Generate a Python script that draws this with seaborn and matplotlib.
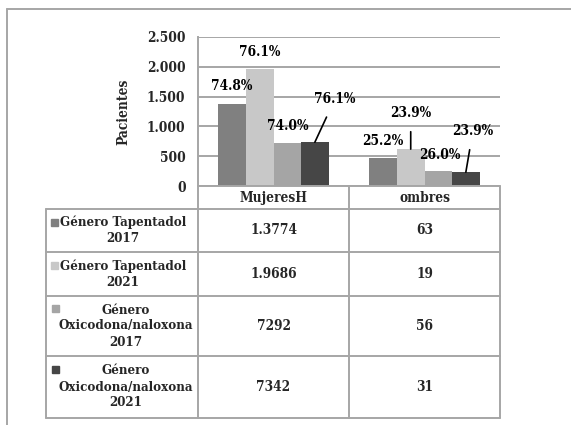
import matplotlib
matplotlib.use("Agg")
import matplotlib.pyplot as plt
from matplotlib.lines import Line2D
from matplotlib.patches import Rectangle
import matplotlib.ticker as mticker
import seaborn as sns
import pandas as pd

# ---------------- data ----------------
categories = ["MujeresH", "ombres"]
series = ["Género Tapentadol 2017", "Género Tapentadol 2021",
          "Género Oxicodona/naloxona 2017", "Género Oxicodona/naloxona 2021"]
row_labels = ["Género Tapentadol\n2017", "Género Tapentadol\n2021",
              "Género\nOxicodona/naloxona\n2017", "Género\nOxicodona/naloxona\n2021"]
tap_2017 = [1377, 463]
tap_2021 = [1968, 619]
oxi_2017 = [729, 256]
oxi_2021 = [734, 231]
table_text = [["1.3774", "63"], ["1.9686", "19"], ["7292", "56"], ["7342", "31"]]
yticks = [0, 500, 1000, 1500, 2000, 2500]

values = [tap_2017, tap_2021, oxi_2017, oxi_2021]
colors = ["#808080", "#c8c8c8", "#a5a5a5", "#464646"]

rows = []
for s, vals in zip(series, values):
    for c, v in zip(categories, vals):
        rows.append({"cat": c, "serie": s, "val": v})
df = pd.DataFrame(rows)

# ---------------- figure ----------------
W, H = 571, 425
sns.set_theme(style="white")
plt.rcParams["font.family"] = ["DejaVu Serif"]
plt.rcParams["font.weight"] = "bold"
plt.rcParams["font.stretch"] = "condensed"
FS = 9.8
FS_ROW = 9.5

fig = plt.figure(figsize=(W / 100, H / 100), dpi=100)
fig.patch.set_facecolor("white")


def fx(x):
    return x / W


def fy(y):
    return 1 - y / H


ax_l, ax_r, ax_t, ax_b = 198, 500, 37, 186
ax = fig.add_axes([fx(ax_l), fy(ax_b), (ax_r - ax_l) / W, (ax_b - ax_t) / H])
sns.barplot(data=df, x="cat", y="val", hue="serie", hue_order=series,
            order=categories, palette=colors, width=0.73, saturation=1,
            legend=False, ax=ax, edgecolor="none")

ax.set_ylim(0, 2500)
ax.set_yticks(yticks)
ax.yaxis.set_major_formatter(mticker.FuncFormatter(lambda v, p: f"{int(v):,}".replace(",", ".")))
ax.tick_params(axis="y", length=0, pad=9, labelsize=FS)
for t in ax.get_yticklabels():
    t.set_fontweight("bold")
ax.set_xticks([])
ax.set_xlabel("")
ax.set_ylabel("Pacientes", fontsize=FS, fontweight="bold", labelpad=12)
ax.yaxis.grid(True, color="#a6a6a6", linewidth=1.4)
ax.set_axisbelow(True)
for sp in ["top", "right"]:
    ax.spines[sp].set_visible(False)
ax.spines["left"].set_color("#a6a6a6")
ax.spines["left"].set_linewidth(1.4)
ax.spines["bottom"].set_visible(False)

# percentage labels (offset in pixels: dx, dy, leader line)
offsets = {
    (0, 0): (0, 18, False), (1, 0): (0, 17, False), (2, 0): (0, 17, False), (3, 0): (20, 43, True),
    (0, 1): (0, 17, False), (1, 1): (0, 36, True), (2, 1): (2, 16, False), (3, 1): (7, 41, True),
}
for si, cont in enumerate(ax.containers):
    tot = values[si][0] + values[si][1]
    for ci, bar in enumerate(cont):
        pct = values[si][ci] / tot * 100
        dx, dy, lead = offsets[(si, ci)]
        x = bar.get_x() + bar.get_width() / 2
        y = bar.get_height()
        ax.annotate(f"{pct:.1f}%", xy=(x, y), xytext=(dx, dy),
                    textcoords="offset pixels", ha="center", va="center",
                    fontsize=FS, fontweight="bold", color="black",
                    annotation_clip=False,
                    arrowprops=dict(arrowstyle="-", color="black", lw=1.2,
                                    shrinkA=6, shrinkB=0) if lead else None)

# ---------------- data table ----------------
lc = "#a6a6a6"
lw = 1.4


def hline(y, x0, x1):
    fig.add_artist(Line2D([fx(x0), fx(x1)], [fy(y), fy(y)], color=lc, lw=lw))


def vline(x, y0, y1):
    fig.add_artist(Line2D([fx(x), fx(x)], [fy(y0), fy(y1)], color=lc, lw=lw))


col_x = [198, 349, 500]
row_y = [209, 252, 296, 356, 418]
hline(186, 198, 500)
for y in row_y:
    hline(y, 46, 500)
vline(46, 209, 418)
for x in col_x:
    vline(x, 186, 418)

for ci, c in enumerate(categories):
    fig.text(fx((col_x[ci] + col_x[ci + 1]) / 2), fy(198), c, ha="center", va="center",
             fontsize=FS, fontweight="bold")

label_cx = [123, 123, 126, 126]
marker_pos = [(54, 222), (54, 265), (55, 308), (55, 369)]
for ri in range(4):
    yc = (row_y[ri] + row_y[ri + 1]) / 2
    fig.text(fx(label_cx[ri]), fy(yc), row_labels[ri], ha="center", va="center",
             fontsize=FS_ROW, fontweight="bold", linespacing=1.3)
    mx, my = marker_pos[ri]
    fig.add_artist(Rectangle((fx(mx - 3.5), fy(my + 3.5)), 7 / W, 7 / H,
                             transform=fig.transFigure, color=colors[ri]))
    for ci in range(2):
        fig.text(fx((col_x[ci] + col_x[ci + 1]) / 2), fy(yc), table_text[ri][ci],
                 ha="center", va="center", fontsize=FS, fontweight="bold")

# outer chart frame
fig.add_artist(Line2D([fx(7), fx(571)], [fy(9), fy(9)], color=lc, lw=1.4))
fig.add_artist(Line2D([fx(7), fx(7)], [fy(9), fy(425)], color=lc, lw=1.4))

fig.savefig("out.png", dpi=100)
